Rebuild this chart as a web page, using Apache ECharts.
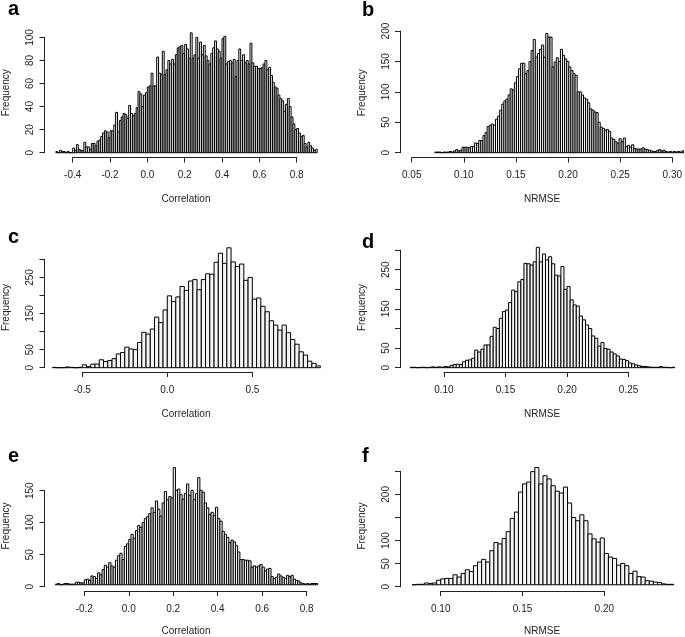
<!DOCTYPE html>
<html>
<head>
<meta charset="utf-8">
<script src="https://cdn.jsdelivr.net/npm/echarts@6/dist/echarts.min.js"></script>
<style>
html,body{margin:0;padding:0;background:#fff;}
#chart{width:685px;height:637px;}
</style>
</head>
<body>
<div id="chart"></div>
<script>
// ---------------- DATA ----------------
// Panel a: Correlation, bins of 0.01 starting at -0.49
const aBreakStart = -0.49, aBinWidth = 0.01;
const aCounts = [
  1,0,2,1,1,0,1,0,0,4,
  2,7,3,2,2,9,5,5,3,8,
  8,6,10,11,14,17,19,18,13,19,
  19,24,35,18,28,31,34,33,30,41,
  34,32,34,39,53,51,40,50,52,57,
  58,69,58,58,83,69,68,88,68,72,
  80,77,81,77,85,91,92,93,86,94,
  90,82,104,82,85,100,82,96,85,93,
  84,80,77,86,91,97,90,88,82,99,
  101,77,79,80,78,81,66,80,90,80,
  85,78,80,77,95,78,75,75,73,73,
  74,77,80,72,74,67,61,57,56,50,
  47,45,36,42,47,40,31,25,20,21,
  17,14,15,8,5,9,6,4,2,3
];
// Panel b: NRMSE, bins of 0.002 starting at 0.072
const bBreakStart = 0.072, bBinWidth = 0.002;
const bCounts = [
  1,1,1,0,1,1,1,2,1,3,
  5,3,4,9,9,9,8,10,10,16,
  15,20,20,28,33,43,45,47,45,55,
  60,70,80,85,88,95,105,103,115,125,
  138,147,147,130,135,150,168,186,157,163,
  170,177,157,196,190,190,141,149,156,150,
  170,160,154,150,141,135,130,127,100,100,
  95,90,88,82,72,70,67,66,50,42,
  40,37,38,35,24,22,18,16,23,18,
  24,10,12,9,13,7,6,6,6,8,
  6,5,4,3,2,2,4,5,3,4,
  2,1,2,1,2,1,2,1,3,2
];
// Panel c: Correlation, bins of 0.025 starting at -0.675
const cBreakStart = -0.675, cBinWidth = 0.025;
const cCounts = [
  1,0,0,2,1,0,1,8,3,10,
  10,22,17,20,25,38,42,57,52,50,
  70,98,93,107,140,125,160,199,183,196,
  225,214,240,244,216,244,260,259,292,317,
  289,332,293,280,287,242,250,190,193,170,
  155,130,118,104,118,97,78,65,44,35,
  18,12,5
];
// Panel d: NRMSE, bins of 0.0025 starting at 0.0725
const dBreakStart = 0.0725, dBinWidth = 0.0025;
const dCounts = [
  1,1,0,1,1,0,1,2,1,2,
  1,3,2,6,8,9,8,15,19,20,
  24,45,40,47,58,58,80,103,100,126,
  143,147,166,198,194,219,225,266,265,262,
  270,307,270,290,275,283,265,236,234,258,
  200,207,173,160,157,132,122,109,100,81,
  75,55,64,49,47,40,35,30,22,21,
  18,12,10,7,5,3,3,2,1,1,
  1,3,1,1,0,1
];
// Panel e: Correlation, bins of 0.01 starting at -0.33
const eBreakStart = -0.33, eBinWidth = 0.01;
const eCounts = [
  1,2,0,1,2,2,1,1,1,4,
  4,3,3,8,9,7,14,13,10,19,
  16,24,31,28,35,30,28,39,46,50,
  40,61,65,72,80,74,86,94,91,99,
  105,108,113,122,115,133,120,109,130,148,
  135,140,138,186,150,152,143,136,145,160,
  142,150,135,145,170,150,147,130,122,112,
  115,110,123,105,101,85,80,75,67,71,
  68,62,52,40,40,39,39,38,28,30,
  28,30,32,28,22,25,26,13,10,12,
  17,14,12,10,15,13,15,9,7,6,
  3,2,1,2,1,2,2,2
];
// Panel f: NRMSE, bins of 0.0025 starting at 0.0825
const fBreakStart = 0.0825, fBinWidth = 0.0025;
const fCounts = [
  0,1,1,4,3,4,10,13,14,14,
  22,17,25,33,29,42,50,56,50,75,
  93,90,102,117,146,160,204,222,226,249,
  258,222,240,233,218,206,202,215,180,148,
  141,154,141,112,101,94,103,69,61,58,
  43,47,42,25,30,18,17,9,8,6,
  5,2,1,1
];

// Tick labels
const xTicksA = ['-0.4','-0.2','0.0','0.2','0.4','0.6','0.8'];
const xTicksB = ['0.05','0.10','0.15','0.20','0.25','0.30'];
const xTicksC = ['-0.5','0.0','0.5'];
const xTicksD = ['0.10','0.15','0.20','0.25'];
const xTicksE = ['-0.2','0.0','0.2','0.4','0.6','0.8'];
const xTicksF = ['0.10','0.15','0.20'];

const yTicksA = [0,20,40,60,80,100];
const yTicksB = [0,50,100,150,200];
const yTicksC = [0,50,100,150,200,250,300];
const yTicksD = [0,50,100,150,200,250,300];
const yTicksE = [0,50,100,150];
const yTicksF = [0,50,100,150,200,250];

const yShownA = [0,20,40,60,80,100];
const yShownB = [0,50,100,150,200];
const yShownC = [0,50,150,250];
const yShownD = [0,50,150,250];
const yShownE = [0,50,100,150];
const yShownF = [0,50,100,200];

const xNameCorr = 'Correlation';
const xNameNrmse = 'NRMSE';
const yName = 'Frequency';
const panelLetters = ['a','b','c','d','e','f'];

// ---------------- LAYOUT ----------------
const FONT = '"Liberation Sans", Arial, Helvetica, sans-serif';
const INK = '#222';
const FS = 10;
// plot box [left, right, top, bottom] in px; domain [xmin, xmax, ymin, ymax]
const panels = [
  {counts:aCounts, start:aBreakStart, bw:aBinWidth, xt:xTicksA, yt:yTicksA, ys:yShownA, xName:xNameCorr,
   box:[44.5,327.5,28,157.5], dom:[-0.551,0.965,-4.16,108.2], letter:[8,19]},
  {counts:bCounts, start:bBreakStart, bw:bBinWidth, xt:xTicksB, yt:yTicksB, ys:yShownB, xName:xNameNrmse,
   box:[400,684,28,157.5], dom:[0.0388,0.310,-7.9,205], letter:[362,20]},
  {counts:cCounts, start:cBreakStart, bw:cBinWidth, xt:xTicksC, yt:yTicksC, ys:yShownC, xName:xNameCorr,
   box:[44.5,327.5,243,372], dom:[-0.722,0.942,-11.9,345.3], letter:[8,247.5]},
  {counts:dCounts, start:dBreakStart, bw:dBinWidth, xt:xTicksD, yt:yTicksD, ys:yShownD, xName:xNameNrmse,
   box:[400,684,243,372], dom:[0.0643,0.295,-11,318], letter:[362,252]},
  {counts:eCounts, start:eBreakStart, bw:eBinWidth, xt:xTicksE, yt:yTicksE, ys:yShownE, xName:xNameCorr,
   box:[44.5,327.5,463,591], dom:[-0.379,0.894,-6.7,193.3], letter:[8,466]},
  {counts:fCounts, start:fBreakStart, bw:fBinWidth, xt:xTicksF, yt:yTicksF, ys:yShownF, xName:xNameNrmse,
   box:[400,684,463,591], dom:[0.0751,0.2487,-9.3,268], letter:[362,466]}
];

const grid = [], xAxis = [], yAxis = [], series = [], graphic = [];
const hidden = {axisLine:{show:false}, axisTick:{show:false}, axisLabel:{show:false}, splitLine:{show:false}};
const textStyle = {fontFamily: FONT, fontSize: FS, color: INK};

panels.forEach((p, k) => {
  const [L, R, T, B] = p.box;
  const [xmin, xmax, ymin, ymax] = p.dom;
  const W = R - L, H = B - T;
  const g0 = 3*k;
  // data grid
  grid.push({left:L, top:T, width:W, height:H});
  xAxis.push(Object.assign({gridIndex:g0, type:'value', min:xmin, max:xmax,
    name:p.xName, nameLocation:'middle', nameGap:37, nameTextStyle:textStyle}, hidden));
  yAxis.push(Object.assign({gridIndex:g0, type:'value', min:ymin, max:ymax,
    name:yName, nameLocation:'middle', nameGap:33, nameRotate:90, nameTextStyle:textStyle}, hidden));
  // x tick grid
  const t0 = parseFloat(p.xt[0]), t1 = parseFloat(p.xt[p.xt.length-1]);
  const step = (t1 - t0) / (p.xt.length - 1);
  const xl = L + (t0 - xmin)/(xmax - xmin)*W;
  const xw = (t1 - t0)/(xmax - xmin)*W;
  grid.push({left:xl, top:T, width:xw, height:H});
  xAxis.push({gridIndex:g0+1, type:'value', min:t0, max:t1, interval:step,
    axisLine:{show:true, lineStyle:{color:INK, width:1}},
    axisTick:{show:true, length:5, lineStyle:{color:INK, width:1}},
    axisLabel:{show:true, margin:13, fontFamily:FONT, fontSize:FS, color:INK,
      showMinLabel:true, showMaxLabel:true,
      formatter:(v) => { const i = Math.round((v - t0)/step); return p.xt[i] !== undefined ? p.xt[i] : ''; }},
    splitLine:{show:false}});
  yAxis.push(Object.assign({gridIndex:g0+1, type:'value', show:false}, hidden));
  // y tick grid
  const ytop = p.yt[p.yt.length-1];
  const ystep = p.yt[1] - p.yt[0];
  const yt = T + (ymax - ytop)/(ymax - ymin)*H;
  const yh = ytop/(ymax - ymin)*H;
  grid.push({left:L, top:yt, width:W, height:yh});
  xAxis.push(Object.assign({gridIndex:g0+2, type:'value', show:false}, hidden));
  yAxis.push({gridIndex:g0+2, type:'value', min:0, max:ytop, interval:ystep,
    axisLine:{show:true, lineStyle:{color:INK, width:1}},
    axisTick:{show:true, length:5, lineStyle:{color:INK, width:1}},
    axisLabel:{show:true, rotate:90, margin:9, fontFamily:FONT, fontSize:FS, color:INK,
      showMinLabel:true, showMaxLabel:true,
      formatter:(v) => (p.ys.indexOf(Math.round(v)) >= 0 ? String(Math.round(v)) : '')},
    splitLine:{show:false}});
  // histogram bars
  const data = p.counts.map((c, i) => [p.start + i*p.bw, p.start + (i+1)*p.bw, c]);
  series.push({
    type:'custom', xAxisIndex:g0, yAxisIndex:g0, data:data, clip:true, silent:true,
    encode:{x:[0,1], y:2},
    renderItem:(params, api) => {
      const a = api.coord([api.value(0), api.value(2)]);
      const b = api.coord([api.value(1), 0]);
      return {type:'rect', shape:{x:a[0], y:a[1], width:b[0]-a[0], height:b[1]-a[1]},
        style:{fill:'#f4f4f4', stroke:'#000', lineWidth:1}};
    }
  });
  graphic.push({type:'text', x:p.letter[0], y:p.letter[1], silent:true,
    style:{text:panelLetters[k], font:'bold 20px ' + FONT, fill:'#000', textAlign:'left', textVerticalAlign:'bottom', verticalAlign:'bottom'}});
});

const chart = echarts.init(document.getElementById('chart'), null, {renderer:'canvas'});
chart.setOption({
  animation:false,
  backgroundColor:'#ffffff',
  grid, xAxis, yAxis, series, graphic
});
</script>
</body>
</html>
